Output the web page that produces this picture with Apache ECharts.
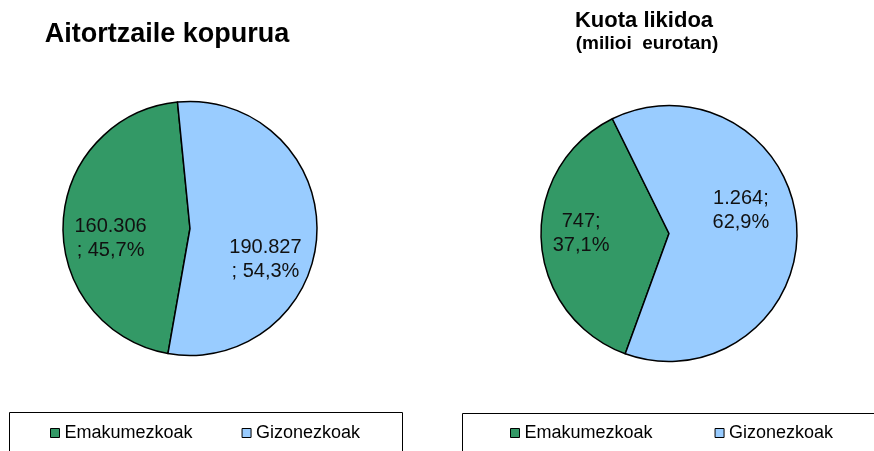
<!DOCTYPE html>
<html>
<head>
<meta charset="utf-8">
<script src="https://cdn.jsdelivr.net/npm/echarts@6/dist/echarts.min.js"></script>
<style>
html, body { margin: 0; padding: 0; background: #fff; }
#main { width: 874px; height: 451px; }
</style>
</head>
<body>
<div id="main"></div>
<script>
var categories = ['Emakumezkoak', 'Gizonezkoak'];
var aitortzaileak = [160306, 190827];
var kuotaLikidoa = [747, 1264];
var colors = ['#339966', '#99ccff'];

var font = "'Liberation Sans', Arial, sans-serif";

function fmtNum(v) {
	return String(v).replace(/\B(?=(\d{3})+(?!\d))/g, '.');
}
function fmtPct(v, arr) {
	var sum = arr.reduce(function(a, b) { return a + b; }, 0);
	return (v / sum * 100).toFixed(1).replace('.', ',') + '%';
}
function toData(values) {
	var out = [];
	for (var i = 0; i < categories.length; i++) {
		out.push({ name: categories[i], value: values[i], itemStyle: { color: colors[i] } });
	}
	return out;
}

var chart = echarts.init(document.getElementById('main'));
chart.setOption({
	animation: false,
	title: [{
		text: 'Aitortzaile kopurua',
		left: 167, top: 21, padding: 0,
		textAlign: 'center', textVerticalAlign: 'top',
		textStyle: { fontFamily: font, fontSize: 27, fontWeight: 'bold', color: '#000' }
	}, {
		text: 'Kuota likidoa',
		left: 644, top: 10, padding: 0,
		textAlign: 'center', textVerticalAlign: 'top',
		textStyle: { fontFamily: font, fontSize: 22, fontWeight: 'bold', color: '#000' }
	}, {
		text: '(milioi  eurotan)',
		left: 647, top: 34, padding: 0,
		textAlign: 'center', textVerticalAlign: 'top',
		textStyle: { fontFamily: font, fontSize: 19, fontWeight: 'bold', color: '#000' }
	}],
	legend: [{
		data: categories,
		left: 50, top: 424, padding: 0,
		orient: 'horizontal',
		icon: 'rect', itemWidth: 9, itemHeight: 9, itemGap: 49,
		selectedMode: false,
		itemStyle: { borderColor: '#000', borderWidth: 1 },
		textStyle: { fontFamily: font, fontSize: 18, color: '#000', lineHeight: 18 }
	}, {
		data: categories,
		left: 510, top: 424, padding: 0,
		orient: 'horizontal',
		icon: 'rect', itemWidth: 9, itemHeight: 9, itemGap: 62,
		selectedMode: false,
		itemStyle: { borderColor: '#000', borderWidth: 1 },
		textStyle: { fontFamily: font, fontSize: 18, color: '#000', lineHeight: 18 }
	}],
	graphic: [{
		type: 'rect',
		shape: { x: 9.5, y: 412.5, width: 393, height: 60 },
		style: { fill: null, stroke: '#000', lineWidth: 1 }
	}, {
		type: 'rect',
		shape: { x: 462.5, y: 413.5, width: 440, height: 60 },
		style: { fill: null, stroke: '#000', lineWidth: 1 }
	}],
	series: [{
		type: 'pie',
		center: [190, 228.5],
		radius: 127,
		startAngle: 260,
		clockwise: true,
		label: {
			position: 'inside',
			fontFamily: font, fontSize: 20, lineHeight: 24, color: '#111',
			align: 'center',
			formatter: function(p) {
				return fmtNum(p.value) + '\n; ' + fmtPct(p.value, aitortzaileak);
			}
		},
		labelLayout: function(p) {
			return p.dataIndex === 0 ? { dx: -13, dy: 13 } : { dx: 9, dy: 28 };
		},
		labelLine: { show: false },
		emphasis: { disabled: true },
		itemStyle: { borderColor: '#000', borderWidth: 1.5 },
		data: toData(aitortzaileak)
	}, {
		type: 'pie',
		center: [669, 233.5],
		radius: 128,
		startAngle: 250,
		clockwise: true,
		label: {
			position: 'inside',
			fontFamily: font, fontSize: 20, lineHeight: 24, color: '#111',
			align: 'center',
			formatter: function(p) {
				return fmtNum(p.value) + ';\n' + fmtPct(p.value, kuotaLikidoa);
			}
		},
		labelLayout: function(p) {
			return p.dataIndex === 0 ? { dx: -21, dy: -4 } : { dx: 5, dy: -19 };
		},
		labelLine: { show: false },
		emphasis: { disabled: true },
		itemStyle: { borderColor: '#000', borderWidth: 1.5 },
		data: toData(kuotaLikidoa)
	}]
});
</script>
</body>
</html>
